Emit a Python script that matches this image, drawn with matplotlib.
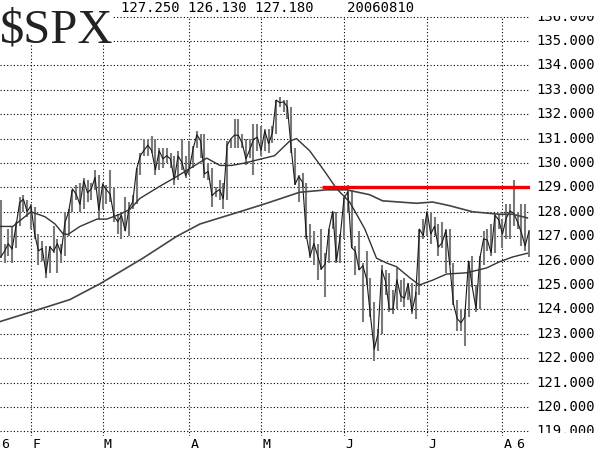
import numpy as np
import matplotlib.pyplot as plt
from matplotlib.patches import Rectangle

# daily bars, Jan 20 2006 .. Aug 10 2006 (index 0 = Feb 1)
high = [128.5, 126.7, 127.3, 127.4, 127.6, 128.6, 128.7, 128.5,
        128.3, 128.2, 127.1, 126.8, 126.6, 126.6, 127.4, 126.9, 126.7, 128.0, 128.1, 128.9, 129.1,
        129.2, 129.4, 129.3, 129.2, 129.7, 129.5,
        129.2, 129.1, 129.7, 129.0, 127.9, 128.0, 128.6, 128.4, 128.7, 129.8, 130.4, 131.0, 131.0,
        131.1, 131.0, 130.6, 130.6, 130.6, 130.4, 130.3, 130.5, 131.0, 130.3,
        130.9, 130.7, 131.3, 131.2, 131.2, 130.0, 129.8, 129.0, 129.3, 129.2, 130.9, 131.0, 131.8,
        131.8, 131.2, 131.0, 131.0, 131.6, 131.6,
        131.5, 131.4, 131.4, 131.5, 132.6, 132.7, 132.6, 132.6, 132.3, 130.6, 129.5, 129.6, 129.2,
        127.5, 127.2, 126.7, 127.3, 126.3, 127.3, 128.0, 128.0, 127.1,
        128.6, 129.1, 128.9, 126.6, 127.2, 125.9, 126.4, 125.3, 124.3, 123.2, 125.8, 125.6, 125.5,
        124.8, 125.7, 125.2, 125.3, 125.1, 125.1, 124.7, 127.3, 127.7,
        128.0, 128.0, 127.8, 127.5, 127.6, 127.3, 127.3, 125.9, 124.4, 124.0, 124.0, 126.0, 126.2,
        125.0, 126.2, 127.2, 127.3, 127.5, 127.9, 127.9,
        127.7, 128.3, 128.3, 129.3, 128.0, 128.3, 128.3, 127.25]
low = [126.1, 125.9, 126.2, 125.9, 126.5, 127.4, 128.0, 127.8,
       127.3, 126.9, 125.8, 126.0, 125.3, 125.5, 126.3, 125.5, 125.9, 126.2, 127.0, 128.0, 128.5,
       128.0, 128.1, 128.4, 128.5, 128.9, 127.7,
       128.1, 128.3, 128.4, 127.6, 127.1, 126.9, 127.2, 127.0, 128.1, 128.3, 129.5, 130.3, 130.3,
       130.4, 129.5, 129.7, 129.8, 130.0, 129.8, 129.1, 129.3, 129.7, 129.4,
       129.5, 129.8, 130.6, 130.2, 129.4, 129.3, 128.2, 128.6, 128.5, 128.1, 128.5, 130.6, 130.6,
       130.6, 130.6, 129.9, 130.2, 129.5, 130.5,
       130.3, 130.5, 130.4, 130.8, 131.2, 132.3, 132.1, 131.8, 130.4, 129.1, 128.4, 129.0, 126.9,
       126.1, 125.8, 125.2, 125.6, 124.5, 125.9, 127.3, 125.9, 125.9,
       126.9, 128.0, 126.5, 125.4, 125.6, 123.5, 125.0, 123.7, 121.9, 122.3, 123.0, 124.6, 123.9,
       123.8, 124.0, 124.3, 124.1, 124.4, 123.8, 123.6, 124.6, 126.9,
       127.0, 126.7, 127.0, 126.2, 126.5, 125.5, 125.8, 124.2, 123.1, 123.1, 122.5, 123.7, 124.9,
       123.9, 124.0, 125.8, 126.4, 126.2, 126.3, 127.3,
       126.5, 126.9, 126.9, 127.4, 127.3, 126.6, 126.4, 126.13]
close = [126.15, 126.38, 126.69, 126.47, 127.38, 128.37, 128.52, 128.01,
         128.25, 127.08, 126.40, 126.50, 125.48, 126.57, 126.38, 126.70, 126.29, 127.55, 128.00,
         128.94, 128.72, 128.30, 129.27, 128.78, 128.94, 129.41, 128.07,
         129.12, 128.91, 128.72, 127.83, 127.59, 127.85, 127.22, 128.14, 128.41, 129.75, 130.30,
         130.53, 130.73, 130.51, 129.72, 130.50, 130.17, 130.30, 130.16, 129.32, 130.29, 130.03,
         129.49,
         129.78, 130.59, 131.16, 130.90, 129.55, 129.66, 128.66, 128.81, 128.91, 128.53, 130.73,
         130.99, 131.15, 131.13, 130.81, 130.17, 130.54, 130.97, 131.06,
         130.52, 131.32, 130.79, 131.23, 132.58, 132.47, 132.51, 132.29, 130.59, 129.12, 129.45,
         129.21, 127.03, 126.18, 126.70, 126.21, 125.66, 125.86, 127.29, 128.02, 125.99, 127.01,
         128.57, 128.82, 126.53, 126.39, 125.62, 125.79, 125.23, 123.74, 122.37, 123.00, 125.62,
         125.15, 124.01, 124.01, 125.22, 124.56, 124.45, 125.06, 123.92, 124.60, 127.29, 127.02,
         128.02, 127.09, 127.41, 126.55, 126.73, 127.24, 125.86, 124.23, 123.62, 123.45, 123.69,
         125.98, 124.91, 124.03, 126.09, 126.89, 126.84, 126.32, 127.86, 127.67,
         127.09, 127.74, 128.03, 127.94, 127.58, 127.15, 126.60, 127.18]

# moving averages (day index, value)
fast_day = [-8.2, -4.8, 0, 3.7, 6.4, 8.5, 9.8, 13.0, 17.5, 20.1, 23.6, 26.2, 28.9, 34.2, 38.7,
            46.6, 50.1, 53.2, 56.7, 60.6, 64.6, 68.6, 70.4, 73.9, 77.9, 81.0, 84.5, 88.5, 91.6,
            94.3, 96.9, 100.4, 103.0, 106.5, 110.2, 115.5, 120.8, 124.2, 127.7, 131.6]
fast_ma = [127.4, 127.4, 128.0, 127.8, 127.5, 127.1, 127.07, 127.4, 127.7, 127.7, 127.9, 128.1,
           128.55, 129.05, 129.45, 130.2, 129.9, 129.9, 130.0, 130.15, 130.3, 130.9, 131.0, 130.5,
           129.65, 128.95, 128.4, 127.3, 126.1, 125.9, 125.75, 125.3, 125.0, 125.2, 125.45, 125.5,
           125.7, 125.95, 126.15, 126.3]
slow_day = [-8.2, 1.1, 10.3, 18.3, 29.7, 38.7, 44.8, 55.3, 62.5, 71.2, 78.4, 83.7, 89.8, 93.2,
            97.7, 102.2, 106.5, 111.0, 117.1, 124.2, 127.7, 131.6]
slow_ma = [123.5, 123.95, 124.4, 125.05, 126.1, 127.0, 127.5, 128.0, 128.35, 128.8, 128.9, 128.9,
           128.7, 128.45, 128.4, 128.35, 128.4, 128.25, 128.0, 127.9, 127.9, 127.75]

resist_level = 129.0
resist_start = 77.1

month_pos = [0, 19, 42, 61, 83, 105, 125]
x_labels = ['6', 'F', 'M', 'A', 'M', 'J', 'J', 'A', '6']
x_label_pos = [-8.1, 0, 19, 42, 61, 83, 105, 125, 128.3]
y_ticks = list(range(119, 137))
header = '127.250 126.130 127.180    20060810'

days = np.arange(len(close)) - 8

fig = plt.figure(figsize=(6.01, 4.51), dpi=100)
H = 451.0
ax = fig.add_axes([0, (H - 436) / H, 530 / 601, (436 - 16) / H])
ax.set_xlim(-8.2, 132.3)
ax.set_ylim(130 - (436 - 163) / 24.4, 130 + (163 - 16) / 24.4)
for s in ax.spines.values():
    s.set_visible(False)
ax.set_xticks([])
ax.set_yticks([])

dots = (0, (1, 2))
for y in y_ticks:
    ax.axhline(y, color='black', lw=0.8, ls=dots, zorder=1)
for m in month_pos:
    ax.axvline(m, color='black', lw=0.8, ls=dots, zorder=1)

# gray high-low bars with a dark line through the closes
ax.vlines(days, low, high, color='#7a7a7a', lw=1.5, zorder=3)
ax.plot(days, close, color='#1a1a1a', lw=0.8, zorder=3)

ax.plot(fast_day, fast_ma, color='#333333', lw=1.0, zorder=4)
ax.plot(slow_day, slow_ma, color='#444444', lw=1.2, zorder=4)
ax.hlines(resist_level, resist_start, 132.3, color='#ee0000', lw=2.4, zorder=5)

for lab, xp in zip(x_labels, x_label_pos):
    ax.text(xp + 0.3, -0.005, lab, transform=ax.get_xaxis_transform(), ha='left', va='top',
            family='DejaVu Sans Mono', fontsize=9.5, clip_on=False)

# right hand price labels, clipped like the original
lab_ax = fig.add_axes([533 / 601, (H - 433) / H, 68 / 601, (433 - 16) / H])
lab_ax.set_ylim(130 - (433 - 163) / 24.4, 130 + (163 - 16) / 24.4)
lab_ax.set_xlim(0, 1)
lab_ax.axis('off')
for y in y_ticks:
    lab_ax.text(0.05, y, f'{y:.3f}', ha='left', va='center', family='DejaVu Sans Mono',
                fontsize=10, clip_on=True)

fig.add_artist(Rectangle((0, 1 - 44 / H), 113 / 601, 44 / H, transform=fig.transFigure,
                         facecolor='white', edgecolor='none', zorder=5))
fig.text(0.0, 1 - 43 / H, '$SPX', family='Liberation Serif', fontsize=35, color='#222222',
         ha='left', va='baseline', zorder=6)
fig.text(121 / 601, 1 - 8 / H, header, family='DejaVu Sans Mono', fontsize=10,
         ha='left', va='center', zorder=6)

fig.savefig('out.png', dpi=100, facecolor='white')
